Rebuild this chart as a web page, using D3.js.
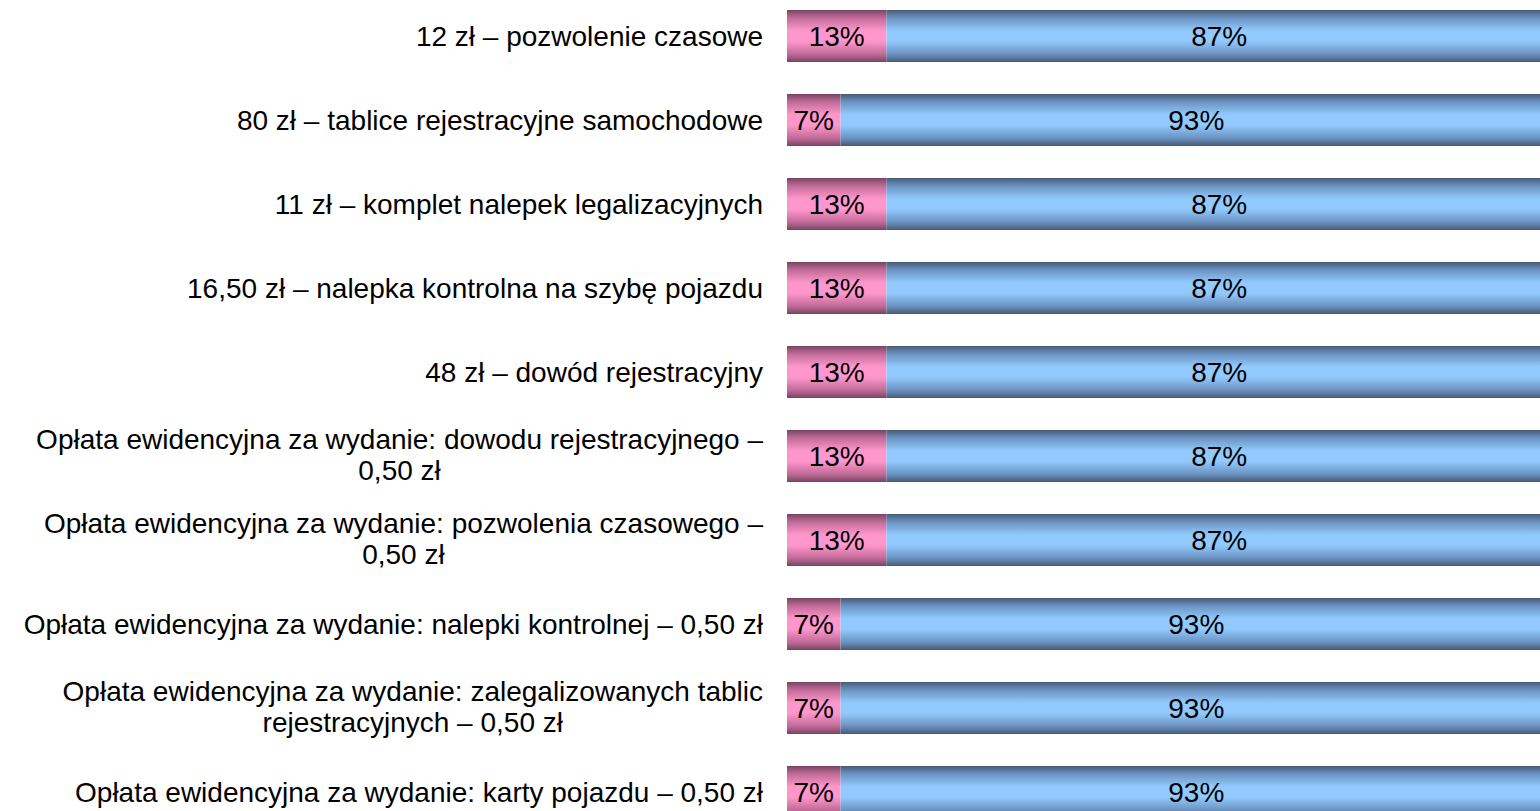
<!DOCTYPE html>
<html>
<head>
<meta charset="utf-8">
<script src="https://cdn.jsdelivr.net/npm/d3@7"></script>
<style>
html,body{margin:0;padding:0;background:#fff;overflow:hidden;}
svg{display:block;font-family:"Liberation Sans",Arial,sans-serif;}
</style>
</head>
<body>
<svg id="chart" width="1540" height="811"></svg>
<script>
const categories = [
  ["12 zł – pozwolenie czasowe"],
  ["80 zł – tablice rejestracyjne samochodowe"],
  ["11 zł – komplet nalepek legalizacyjnych"],
  ["16,50 zł – nalepka kontrolna na szybę pojazdu"],
  ["48 zł – dowód rejestracyjny"],
  ["Opłata ewidencyjna za wydanie: dowodu rejestracyjnego –", "0,50 zł"],
  ["Opłata ewidencyjna za wydanie: pozwolenia czasowego –", "0,50 zł"],
  ["Opłata ewidencyjna za wydanie: nalepki kontrolnej – 0,50 zł"],
  ["Opłata ewidencyjna za wydanie: zalegalizowanych tablic", "rejestracyjnych – 0,50 zł"],
  ["Opłata ewidencyjna za wydanie: karty pojazdu – 0,50 zł"]
];
const pinkValues = [13, 7, 13, 13, 13, 13, 13, 7, 7, 7];
const blueValues = [87, 93, 87, 87, 87, 87, 87, 93, 93, 93];
const seriesNames = ["pink", "blue"];

const svg = d3.select("#chart");
const n = categories.length;
const idx = d3.range(n);

const y = d3.scaleBand().domain(idx).range([-6, 834]).paddingInner(32/84).paddingOuter(16/84);
const x = d3.scaleLinear().domain([0, 100]).range([787, 1552]);

const defs = svg.append("defs");
function grad(id, edge, mid, bright) {
  const g = defs.append("linearGradient").attr("id", id)
    .attr("x1", 0).attr("y1", 0).attr("x2", 0).attr("y2", 1);
  [[0, edge], [0.15, mid], [0.4, bright], [0.6, bright], [0.85, mid], [1, edge]]
    .forEach(([o, c]) => g.append("stop").attr("offset", o).attr("stop-color", c));
}
grad("gPink", "#774560", "#c06a98", "#ff97cc");
grad("gBlue", "#475a76", "#6a92c0", "#92caff");

const rows = idx.map(i => ({i, pink: pinkValues[i], blue: blueValues[i], label: categories[i]}));

const row = svg.selectAll("g.row").data(rows).join("g").attr("class", "row");

row.append("rect")
  .attr("x", d => x(0))
  .attr("y", d => y(d.i))
  .attr("width", d => x(d.pink) - x(0))
  .attr("height", y.bandwidth())
  .attr("fill", "url(#gPink)");

row.append("rect")
  .attr("x", d => x(d.pink))
  .attr("y", d => y(d.i))
  .attr("width", d => x(d.pink + d.blue) - x(d.pink))
  .attr("height", y.bandwidth())
  .attr("fill", "url(#gBlue)");

const fs = 28;
row.append("text")
  .attr("x", d => (x(0) + x(d.pink)) / 2)
  .attr("y", d => y(d.i) + y.bandwidth() / 2 + 10)
  .attr("text-anchor", "middle")
  .attr("font-size", fs)
  .attr("fill", "#000")
  .text(d => d.pink + "%");

row.append("text")
  .attr("x", d => (x(d.pink) + x(d.pink + d.blue)) / 2)
  .attr("y", d => y(d.i) + y.bandwidth() / 2 + 10)
  .attr("text-anchor", "middle")
  .attr("font-size", fs)
  .attr("fill", "#000")
  .text(d => d.blue + "%");

// category labels: right aligned block, lines centred within block
const labelRight = 763;
const lineH = 31;
row.each(function(d) {
  const g = d3.select(this);
  const cy = y(d.i) + y.bandwidth() / 2;
  const lines = d.label;
  const shift = lines.length > 1 ? -2 : 0;
  const t = g.append("g");
  const texts = lines.map((ln, k) => t.append("text")
    .attr("font-size", fs)
    .attr("fill", "#000")
    .attr("y", cy + 10 + shift + (k - (lines.length - 1) / 2) * lineH)
    .text(ln));
  const widths = texts.map(tx => tx.node().getComputedTextLength());
  const maxW = d3.max(widths);
  const center = labelRight - maxW / 2;
  texts.forEach(tx => tx.attr("x", center).attr("text-anchor", "middle"));
});
</script>
</body>
</html>
